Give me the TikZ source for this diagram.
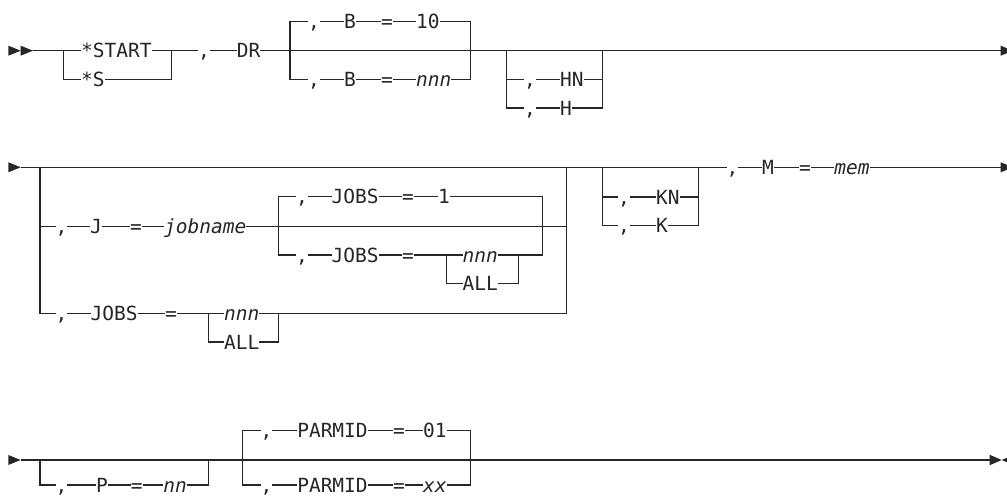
\documentclass[tikz,border=0pt]{standalone}
\usepackage{fontspec}
\setmonofont{DejaVu Sans Mono}
\usetikzlibrary{backgrounds}
\begin{document}
\begin{tikzpicture}[x=1pt,y=-1pt,
  rail/.style={line width=1.3pt, draw=black!85},
  tok/.style={anchor=base, yshift=-7.1pt, inner sep=0pt, fill=white,
    text height=12pt, text depth=0pt, text=black!85,
    font=\fontsize{19.5}{22}\selectfont\ttfamily},
  tokw/.style={tok, anchor=base west},
  var/.style={font=\fontsize{19.5}{22}\selectfont\ttfamily\itshape},
  tri/.style={fill=black!85, draw=none}]
\useasboundingbox (0,0) rectangle (1007,497);

% ---------- row 1 ----------
\coordinate (r1s) at (33,50.7);   \coordinate (r1e) at (1001,50.7);
\coordinate (c1L) at (63.3,50.7); \coordinate (c1R) at (171.7,50.7); \coordinate (c1b) at (0,79.3);
\coordinate (c2L) at (290,50.7);  \coordinate (c2R) at (470.7,50.7);
\coordinate (c2t) at (0,21.3);    \coordinate (c2b) at (0,79.3);
\coordinate (c3L) at (506.7,50.7); \coordinate (c3R) at (602.3,50.7);
\coordinate (c3b1) at (0,79.5);   \coordinate (c3b2) at (0,108);

\node[tokw] (n1a) at (81,50.7) {*START};
\node[tokw] (n1b) at (81,79.3) {*S};
\node[tok] (n1c) at (204,50.7) {,};
\node[tok] (n1d) at (248.5,50.7) {DR};
\node[tok] (n1e) at (314,21.3) {,};
\node[tok] (n1f) at (350,21.3) {B};
\node[tok] (n1g) at (387,21.3) {=};
\node[tokw] (n1h) at (416,21.3) {10};
\node[tok] (n1i) at (314,79.3) {,};
\node[tok] (n1j) at (350,79.3) {B};
\node[tok] (n1k) at (387,79.3) {=};
\node[tokw,var] (n1l) at (416,79.3) {nnn};
\node[tok] (n1m) at (530,79.5) {,};
\node[tokw] (n1n) at (560,79.5) {HN};
\node[tok] (n1o) at (530,108) {,};
\node[tokw] (n1p) at (560,108) {H};

% ---------- row 2 ----------
\coordinate (r2s) at (20.7,167.3); \coordinate (r2e) at (1001,167.3);
\coordinate (cAL) at (40,167.3);   \coordinate (cAR) at (566.7,167.3);
\coordinate (cAb1) at (0,226.7);   \coordinate (cAb2) at (0,313.5);
\coordinate (cBL) at (278.3,226.7); \coordinate (cBR) at (542.5,226.7);
\coordinate (cBt) at (0,196.5);    \coordinate (cBb) at (0,255);
\coordinate (cCL) at (446.7,255);  \coordinate (cCR) at (518.3,255); \coordinate (cCb) at (0,283.5);
\coordinate (cDL) at (208.3,313.5); \coordinate (cDR) at (278.3,313.5); \coordinate (cDb) at (0,342);
\coordinate (cEL) at (602.7,167.3); \coordinate (cER) at (698.3,167.3);
\coordinate (cEb1) at (0,197);     \coordinate (cEb2) at (0,225.5);

\node[tok] (n2a) at (61.5,226.7) {,};
\node[tok] (n2b) at (96,226.7) {J};
\node[tok] (n2c) at (136,226.7) {=};
\node[tokw,var] (n2d) at (164,226.7) {jobname};
\node[tok] (n2e) at (302,196.5) {,};
\node[tokw] (n2f) at (331.5,196.5) {JOBS};
\node[tok] (n2g) at (408,196.5) {=};
\node[tok] (n2h) at (444,196.5) {1};
\node[tok] (n2i) at (302,255) {,};
\node[tokw] (n2j) at (331.5,255) {JOBS};
\node[tok] (n2k) at (408,255) {=};
\node[tokw,var] (n2l) at (462.5,255) {nnn};
\node[tokw] (n2m) at (462.5,283.5) {ALL};
\node[tok] (n2n) at (61.5,313.5) {,};
\node[tokw] (n2o) at (90.5,313.5) {JOBS};
\node[tok] (n2p) at (171,313.5) {=};
\node[tokw,var] (n2q) at (224,313.5) {nnn};
\node[tokw] (n2r) at (224,342) {ALL};
\node[tok] (n2s) at (624,197) {,};
\node[tokw] (n2t) at (656,197) {KN};
\node[tok] (n2u) at (624,225.5) {,};
\node[tokw] (n2v) at (656,225.5) {K};
\node[tok] (n2w) at (732.5,167.3) {,};
\node[tok] (n2x) at (768,167.3) {M};
\node[tok] (n2y) at (805,167.3) {=};
\node[tok,var] (n2z) at (852,167.3) {mem};

% ---------- row 3 ----------
\coordinate (r3s) at (20.7,460); \coordinate (r3e) at (990,460);
\coordinate (cFL) at (40,460);   \coordinate (cFR) at (208.3,460); \coordinate (cFb) at (0,485);
\coordinate (cGL) at (242.3,460); \coordinate (cGR) at (470.7,460);
\coordinate (cGt) at (0,430.5);  \coordinate (cGb) at (0,485);

\node[tok] (n3a) at (61.5,485) {,};
\node[tok] (n3b) at (102,485) {P};
\node[tok] (n3c) at (136.7,485) {=};
\node[tok,var] (n3d) at (175,485) {nn};
\node[tok] (n3e) at (266.5,430.5) {,};
\node[tok] (n3f) at (332.5,430.5) {PARMID};
\node[tok] (n3g) at (399,430.5) {=};
\node[tokw] (n3h) at (423,430.5) {01};
\node[tok] (n3i) at (266.5,485) {,};
\node[tok] (n3j) at (332.5,485) {PARMID};
\node[tok] (n3k) at (399,485) {=};
\node[tokw,var] (n3l) at (423,485) {xx};

% ---------- rails ----------
\begin{scope}[on background layer]
  % row 1
  \draw[rail] (r1s) -- (r1e);
  \draw[rail] (c1L) -- (c1L|-c1b) -- (c1R|-c1b) -- (c1R);
  \draw[rail] (c2L|-c2t) rectangle (c2R|-c2b);
  \draw[rail] (c3L) -- (c3L|-c3b2) -- (c3R|-c3b2) -- (c3R);
  \draw[rail] (c3L|-c3b1) -- (c3R|-c3b1);
  % row 2
  \draw[rail] (r2s) -- (r2e);
  \draw[rail] (cAL) -- (cAL|-cAb2) -- (cAR|-cAb2) -- (cAR);
  \draw[rail] (cAL|-cAb1) -- (cAR|-cAb1);
  \draw[rail] (cBL|-cBt) rectangle (cBR|-cBb);
  \draw[rail] (cCL) -- (cCL|-cCb) -- (cCR|-cCb) -- (cCR);
  \draw[rail] (cDL) -- (cDL|-cDb) -- (cDR|-cDb) -- (cDR);
  \draw[rail] (cEL) -- (cEL|-cEb2) -- (cER|-cEb2) -- (cER);
  \draw[rail] (cEL|-cEb1) -- (cER|-cEb1);
  % row 3
  \draw[rail] (r3s) -- (r3e);
  \draw[rail] (cFL) -- (cFL|-cFb) -- (cFR|-cFb) -- (cFR);
  \draw[rail] (cGL|-cGt) rectangle (cGR|-cGb);
\end{scope}

% ---------- start / end markers ----------
\fill[tri] (8.3,45.7) -- (20.7,50.7) -- (8.3,55.7) -- cycle;
\fill[tri] (20.7,45.7) -- (33,50.7) -- (20.7,55.7) -- cycle;
\fill[tri] (8.3,162.3) -- (20.7,167.3) -- (8.3,172.3) -- cycle;
\fill[tri] (8.3,455) -- (20.7,460) -- (8.3,465) -- cycle;
\begin{scope}
  \clip (0,0) rectangle (1007,497);
  \fill[tri] (1000.7,45.7) -- (1013,50.7) -- (1000.7,55.7) -- cycle;
  \fill[tri] (1000.7,162.3) -- (1013,167.3) -- (1000.7,172.3) -- cycle;
  \fill[tri] (989.5,454.7) -- (1001.7,460) -- (989.5,465.3) -- cycle;
  \fill[tri] (1014,454.7) -- (1001.7,460) -- (1014,465.3) -- cycle;
\end{scope}
\end{tikzpicture}
\end{document}
